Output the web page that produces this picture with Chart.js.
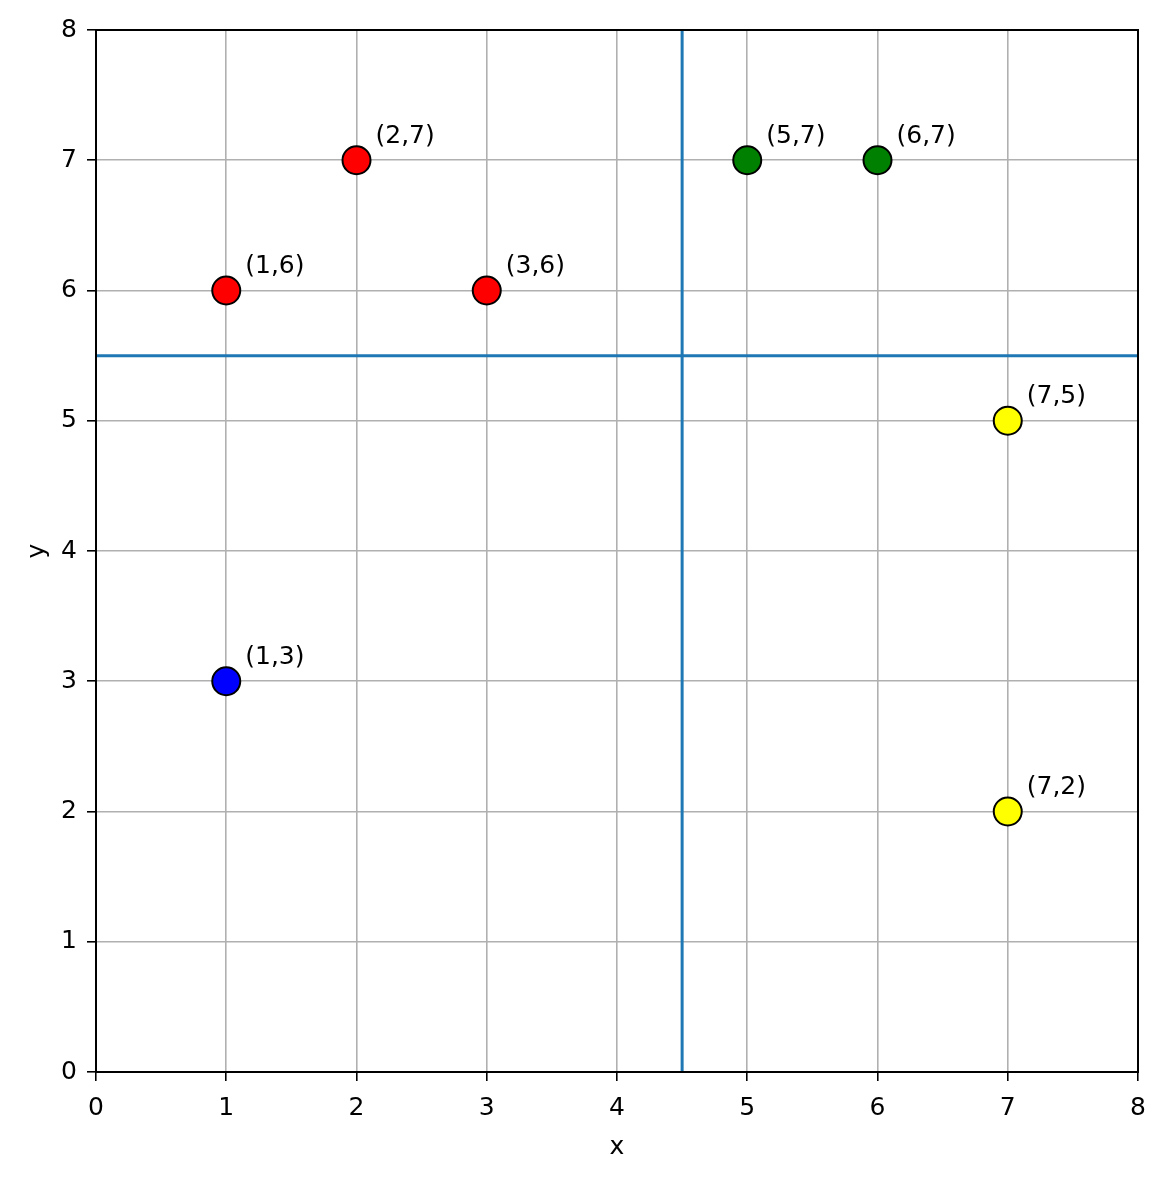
<!DOCTYPE html>
<html lang="en">
<head>
  <meta charset="UTF-8">
  <title>Points and split lines</title>
  <script src="https://cdn.jsdelivr.net/npm/chart.js"></script>
  <style>
    body {
      margin: 0;
      background: #fff;
    }

    #chartContainer {
      width: 1167px;
      height: 1179px;
    }
  </style>
</head>
<body>

  <div id="chartContainer">
    <canvas id="pointChart"></canvas>
  </div>

  <script>
    const xs = [1, 2, 3, 5, 6, 7, 7, 1];
    const ys = [6, 7, 6, 7, 7, 5, 2, 3];
    const colors = ['red', 'red', 'red', 'green', 'green', 'yellow', 'yellow', 'blue'];
    const splitX = 4.5;
    const splitY = 5.5;
    const axisMin = 0;
    const axisMax = 8;

    const points = xs.map((x, i) => ({ x: x, y: ys[i] }));

    const font = { family: 'DejaVu Sans', size: 25 };

    // labels next to each point and frame round the plot area
    const extras = {
      id: 'extras',
      afterDatasetsDraw(chart) {
        const c = chart.ctx;
        const sx = chart.scales.x;
        const sy = chart.scales.y;
        c.save();
        c.font = '25px "DejaVu Sans"';
        c.fillStyle = '#000';
        c.textAlign = 'left';
        c.textBaseline = 'middle';
        points.forEach(p => {
          c.fillText('(' + p.x + ',' + p.y + ')', sx.getPixelForValue(p.x) + 19, sy.getPixelForValue(p.y) - 24);
        });
        const a = chart.chartArea;
        c.strokeStyle = '#000';
        c.lineWidth = 2;
        c.strokeRect(a.left, a.top, a.right - a.left, a.bottom - a.top);
        c.restore();
      }
    };

    const ctx = document.getElementById('pointChart').getContext('2d');

    new Chart(ctx, {
      type: 'scatter',
      data: {
        datasets: [
          {
            type: 'line',
            data: [{ x: splitX, y: axisMin }, { x: splitX, y: axisMax }],
            borderColor: '#1f77b4',
            borderWidth: 3,
            pointRadius: 0,
            fill: false
          },
          {
            type: 'line',
            data: [{ x: axisMin, y: splitY }, { x: axisMax, y: splitY }],
            borderColor: '#1f77b4',
            borderWidth: 3,
            pointRadius: 0,
            fill: false
          },
          {
            data: points,
            backgroundColor: colors,
            borderColor: '#000',
            borderWidth: 2,
            pointRadius: 14,
            pointHoverRadius: 14
          }
        ]
      },
      options: {
        responsive: true,
        maintainAspectRatio: false,
        animation: false,
        layout: {
          padding: { top: 30, right: 29, left: 0, bottom: 0 }
        },
        plugins: {
          legend: { display: false },
          tooltip: { enabled: false }
        },
        scales: {
          x: {
            type: 'linear',
            min: axisMin,
            max: axisMax,
            afterFit(scale) { scale.height = 107; },
            ticks: { stepSize: 1, color: '#000', font: font, padding: 12 },
            grid: { color: '#b0b0b0', lineWidth: 1.6, tickColor: '#000', tickLength: 9, tickWidth: 1.6 },
            border: { color: '#000', width: 2 },
            title: { display: true, text: 'x', color: '#000', font: font, padding: { top: 0, bottom: 17 } }
          },
          y: {
            type: 'linear',
            min: axisMin,
            max: axisMax,
            afterFit(scale) { scale.width = 96; },
            ticks: { stepSize: 1, color: '#000', font: font, padding: 10 },
            grid: { color: '#b0b0b0', lineWidth: 1.6, tickColor: '#000', tickLength: 9, tickWidth: 1.6 },
            border: { color: '#000', width: 2 },
            title: { display: true, text: 'y', color: '#000', font: font, padding: { top: 22, bottom: 0 } }
          }
        }
      },
      plugins: [extras]
    });
  </script>

</body>
</html>
